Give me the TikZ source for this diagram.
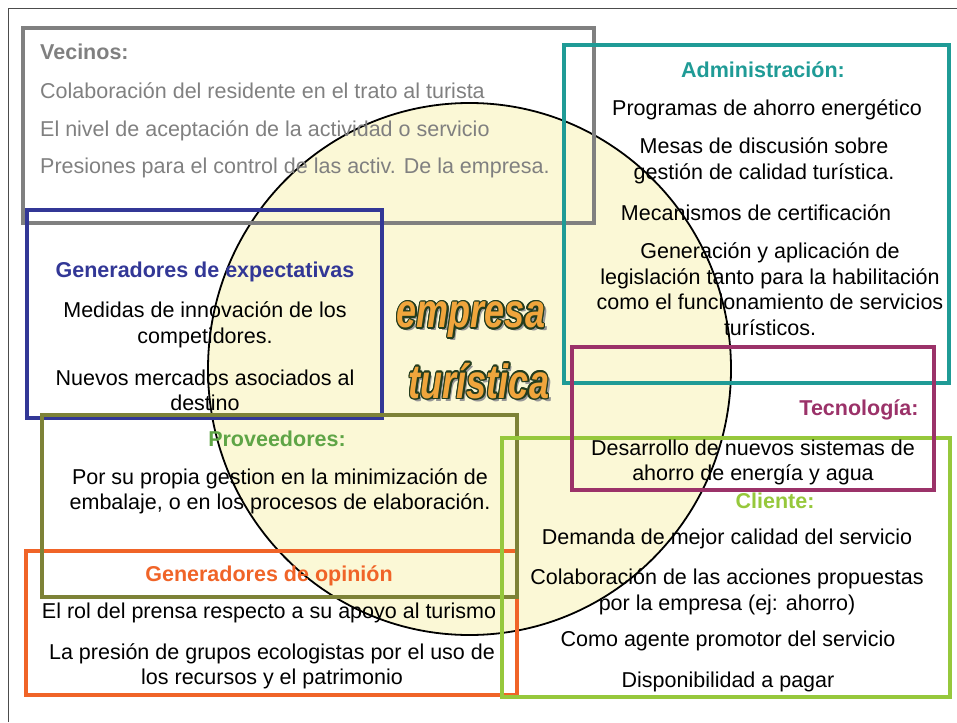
\documentclass[tikz,border=0pt]{standalone}
\usepackage{fontspec}
\setmainfont{Liberation Sans}
\usepackage{xcolor}
\usepackage{tikz}
\usetikzlibrary{calc}
\definecolor{gris}{RGB}{128,128,128}
\definecolor{teal2}{RGB}{31,155,150}
\definecolor{azul}{RGB}{50,55,150}
\definecolor{oliva}{RGB}{125,130,55}
\definecolor{naranja}{RGB}{240,100,40}
\definecolor{verdeclaro}{RGB}{150,200,60}
\definecolor{verdeprov}{RGB}{95,165,70}
\definecolor{morado}{RGB}{155,50,105}
\definecolor{circfill}{RGB}{251,248,214}
\definecolor{letrafill}{RGB}{240,165,60}
\definecolor{letraborde}{RGB}{35,60,30}
\definecolor{sombra}{RGB}{150,150,150}

\begin{document}
\begin{tikzpicture}[x=1pt, y=-1pt,
  box/.style={line width=4.5pt},
  txt/.style={font=\fontsize{21.5}{25.5}\selectfont, align=center, inner sep=0pt, yshift=-2pt},
  ttl/.style={font=\fontsize{21.5}{25.5}\selectfont\bfseries, inner sep=0pt, yshift=-2pt},
  bigtxt/.style={font=\fontsize{48}{50}\selectfont\bfseries\itshape, xscale=0.75, inner sep=0pt}]
\useasboundingbox (0,0) rectangle (957,722);
%%%%% Frame %%%%%
\draw[line width=1pt, color=black!70] (8,722) -- (8,9) -- (957,9);
%%%%% Circle %%%%%
\draw[fill=circfill, draw=black, line width=1.8pt] (469.5,369) ellipse [x radius=261.5pt, y radius=266pt];
%%%%% Boxes %%%%%
\draw[box, draw=gris] (23,28) rectangle (594,223);
\draw[box, draw=teal2] (564,45) rectangle (949,383);
\draw[box, draw=azul] (27,210) rectangle (382,418);
\draw[box, draw=naranja] (26,551) rectangle (517,695);
\draw[box, draw=oliva] (42,415) rectangle (517,597);
\draw[box, draw=verdeclaro] (502,438) rectangle (950,697);
\draw[box, draw=morado] (572,347) rectangle (934,490);
%%%%% Vecinos %%%%%
\node[ttl, text=gris, anchor=west] (vec) at (40,50) {Vecinos:};
\node[txt, text=gris, anchor=west] (vec1) at (40,89) {Colaboración del residente en el trato al turista};
\node[txt, text=gris, anchor=west] (vec2) at (40,129) {El nivel de aceptación de la actividad o servicio};
\node[txt, text=gris, anchor=west] (vec3) at (40,166) {Presiones para el control de las activ. De la empresa.};
%%%%% Administracion %%%%%
\node[ttl, text=teal2] (adm) at (763,68) {Administración:};
\node[txt] (adm1) at (767,108) {Programas de ahorro energético};
\node[txt] (adm2) at (764,159) {Mesas de discusión sobre\\gestión de calidad turística.};
\node[txt] (adm3) at (756,211) {Mecanismos de certificación};
\node[txt] (adm4) at (770,287) {Generación y aplicación de\\legislación tanto para la habilitación\\como el funcionamiento de servicios\\turísticos.};
%%%%% Generadores de expectativas %%%%%
\node[ttl, text=azul] (gex) at (205,270) {Generadores de expectativas};
\node[txt] (gex1) at (205,323) {Medidas de innovación de los\\competidores.};
\node[txt] (gex2) at (205,388.5) {Nuevos mercados asociados al\\destino};
%%%%% Proveedores %%%%%
\node[ttl, text=verdeprov] (prov) at (277,437) {Proveedores:};
\node[txt] (prov1) at (280,489.5) {Por su propia gestion en la minimización de\\embalaje, o en los procesos de elaboración.};
%%%%% Generadores de opinion %%%%%
\node[ttl, text=naranja] (gop) at (269,574) {Generadores de opinión};
\node[txt] (gop1) at (269,611) {El rol del prensa respecto a su apoyo al turismo};
\node[txt] (gop2) at (272,664.5) {La presión de grupos ecologistas por el uso de\\los recursos y el patrimonio};
%%%%% Tecnologia %%%%%
\node[ttl, text=morado] (tec) at (859,408) {Tecnología:};
\node[txt] (tec1) at (753,460.5) {Desarrollo de nuevos sistemas de\\ahorro de energía y agua};
%%%%% Cliente %%%%%
\node[ttl, text=verdeclaro] (cli) at (775,499) {Cliente:};
\node[txt] (cli1) at (727,537) {Demanda de mejor calidad del servicio};
\node[txt] (cli2) at (727,590) {Colaboración de las acciones propuestas\\por la empresa (ej: ahorro)};
\node[txt] (cli3) at (728,639) {Como agente promotor del servicio};
\node[txt] (cli4) at (728,680) {Disponibilidad a pagar};
%%%%% Empresa turistica %%%%%
\node[bigtxt, text=sombra] at (474,323) {empresa};
\node[bigtxt, text=sombra] at (482,384) {turística};
\foreach \a in {0,30,...,330}{
  \node[bigtxt, text=letraborde] at ($(471,320)+(\a:1.6)$) {empresa};
  \node[bigtxt, text=letraborde] at ($(479,381)+(\a:1.6)$) {turística};
}
\node[bigtxt, text=letrafill] (emp) at (471,320) {empresa};
\node[bigtxt, text=letrafill] (tur) at (479,381) {turística};
\end{tikzpicture}
\end{document}
